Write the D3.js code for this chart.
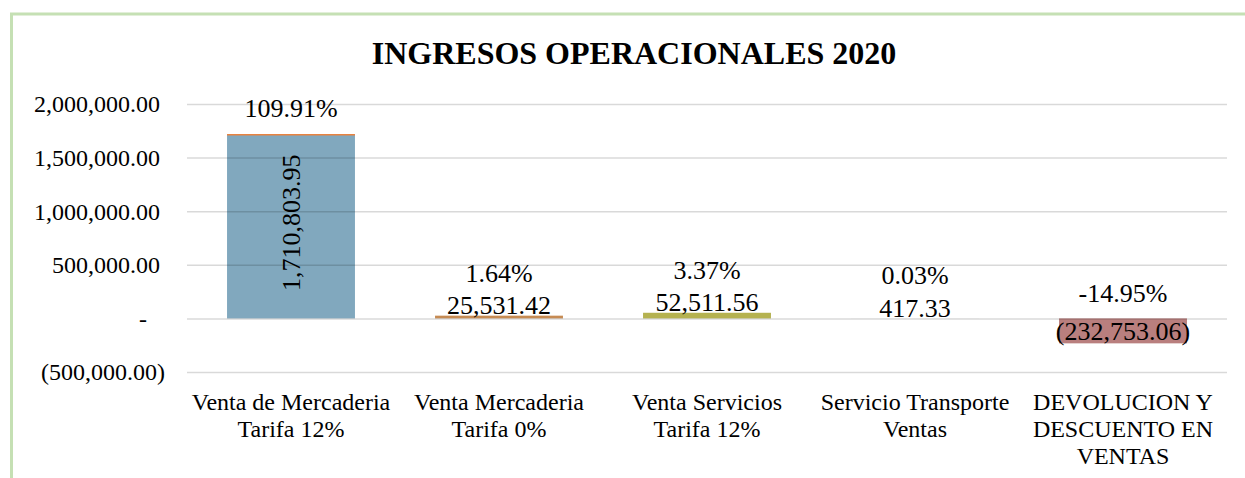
<!DOCTYPE html>
<html>
<head>
<meta charset="utf-8">
<script src="https://cdn.jsdelivr.net/npm/d3@7"></script>
<style>
  body { margin: 0; background: #fff; }
  svg text { font-family: "Liberation Serif", "Times New Roman", serif; fill: #000; }
</style>
</head>
<body>
<svg id="chart"></svg>
<script>
// Data
const categories = [
  ["Venta de Mercaderia", "Tarifa 12%"],
  ["Venta Mercaderia", "Tarifa 0%"],
  ["Venta Servicios", "Tarifa 12%"],
  ["Servicio Transporte", "Ventas"],
  ["DEVOLUCION Y", "DESCUENTO EN", "VENTAS"]
];
const values = [1710803.95, 25531.42, 52511.56, 417.33, -232753.06];
const shares = [1.0991, 0.0164, 0.0337, 0.0003, -0.1495];
const yTicks = [-500000, 0, 500000, 1000000, 1500000, 2000000];
const barColors = ["#81A8BE", "#C68B53", "#B5B250", "#A5A5A5", "#B97F7E"];

// Chart dimensions
const width = 1245;
const height = 478;
const plot = { left: 187, right: 1227, top: 104, bottom: 372 };

const svg = d3.select('#chart')
  .attr('width', width)
  .attr('height', height);

// Frame
svg.append('rect')
  .attr('x', 11.5).attr('y', 14)
  .attr('width', 1300).attr('height', 600)
  .attr('fill', 'none')
  .attr('stroke', '#C5E0B4')
  .attr('stroke-width', 3);

// Title
svg.append('text')
  .attr('x', 634).attr('y', 64)
  .attr('text-anchor', 'middle')
  .style('font-size', '32px')
  .style('font-weight', 'bold')
  .text('INGRESOS OPERACIONALES 2020');

// Scales
const xScale = d3.scaleBand()
  .domain(d3.range(values.length))
  .range([plot.left, plot.right])
  .paddingInner(0.385)
  .paddingOuter(0.1925);

const yScale = d3.scaleLinear()
  .domain([-500000, 2000000])
  .range([plot.bottom, plot.top]);

const fmtNum = d3.format(',.2f');
const acct = v => v < 0 ? '(' + fmtNum(-v) + ')' : fmtNum(v);
const fmtPct = v => d3.format('.2%')(v).replace('\u2212', '-');

// Bars
svg.selectAll('.bar')
  .data(values)
  .enter().append('rect')
  .attr('class', 'bar')
  .attr('x', (d, i) => xScale(i))
  .attr('y', d => yScale(Math.max(0, d)))
  .attr('width', xScale.bandwidth())
  .attr('height', d => Math.abs(yScale(d) - yScale(0)))
  .attr('fill', (d, i) => barColors[i]);

// thin top edge on the first bar
svg.append('rect')
  .attr('x', xScale(0))
  .attr('y', yScale(values[0]) - 1)
  .attr('width', xScale.bandwidth())
  .attr('height', 1.5)
  .attr('fill', '#E8823F');

// Y axis (gridlines + labels)
const yAxis = d3.axisLeft(yScale)
  .tickValues(yTicks)
  .tickSize(-(plot.right - plot.left))
  .tickPadding(0)
  .tickFormat(d => d === 0 ? '-' : acct(d));

const gy = svg.append('g')
  .attr('transform', `translate(${plot.left}, 0)`)
  .call(yAxis);
gy.select('.domain').remove();
gy.selectAll('.tick line')
  .attr('stroke', '#000')
  .attr('stroke-opacity', 0.15)
  .attr('stroke-width', 1.5);
gy.selectAll('.tick text')
  .attr('x', d => d < 0 ? -22 : d === 0 ? -40 : -27)
  .attr('dy', '0.33em')
  .style('font-size', '24px');

// Category labels
const cat = svg.selectAll('.cat')
  .data(categories)
  .enter().append('text')
  .attr('class', 'cat')
  .attr('text-anchor', 'middle')
  .style('font-size', '24px');
cat.selectAll('tspan')
  .data((d, i) => d.map(t => ({ t, i })))
  .enter().append('tspan')
  .attr('x', d => xScale(d.i) + xScale.bandwidth() / 2)
  .attr('y', (d, j) => 410 + j * 27)
  .text(d => d.t);

// Value labels
values.forEach((v, i) => {
  const cx = xScale(i) + xScale.bandwidth() / 2;
  const barH = Math.abs(yScale(v) - yScale(0));
  let pctY;
  if (barH > 150) {
    // rotated inside the bar
    const cy = (yScale(v) + yScale(0)) / 2 - 4;
    svg.append('text')
      .attr('transform', `translate(${cx + 9}, ${cy}) rotate(-90)`)
      .attr('text-anchor', 'middle')
      .style('font-size', '26px')
      .text(acct(v));
    pctY = yScale(v) - 18;
  } else if (v < 0) {
    svg.append('text')
      .attr('x', cx).attr('y', (yScale(0) + yScale(v)) / 2 + 9)
      .attr('text-anchor', 'middle')
      .style('font-size', '26px')
      .text(acct(v));
    pctY = yScale(0) - 16;
  } else {
    svg.append('text')
      .attr('x', cx).attr('y', yScale(v) - 1.5)
      .attr('text-anchor', 'middle')
      .style('font-size', '26px')
      .text(acct(v));
    pctY = yScale(v) - 34;
  }
  svg.append('text')
    .attr('x', cx).attr('y', pctY)
    .attr('text-anchor', 'middle')
    .style('font-size', '26px')
    .text(fmtPct(shares[i]));
});
</script>
</body>
</html>
